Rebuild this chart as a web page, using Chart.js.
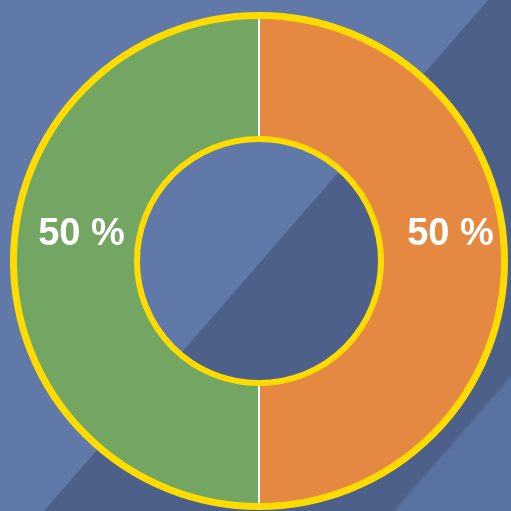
<!DOCTYPE html>
<html>
<head>
<meta charset="utf-8">
<script src="https://cdn.jsdelivr.net/npm/chart.js@4"></script>
<style>
  html, body { margin: 0; padding: 0; }
  body { width: 511px; height: 511px; overflow: hidden; }
  #wrap {
    width: 511px; height: 511px;
    /* blue backdrop with the darker diagonal band */
    background: linear-gradient(131deg,
      #6079a8 0%, #6079a8 51%,
      #4d6089 51.2%, #4d6089 87.5%,
      #5a72a0 88%, #5a72a0 100%);
  }
</style>
</head>
<body>
<div id="wrap"><canvas id="ring" width="511" height="511"></canvas></div>
<script>
// ── data ────────────────────────────────────────────
const categories = ['B', 'A'];          // right (orange), left (green)
const values     = [50, 50];
const colors     = ['#e48842', '#72a662'];

// yellow rims + percentage labels
const rimPlugin = {
    id: 'rim',
    afterDatasetsDraw(chart) {
        const ctx  = chart.ctx;
        const arcs = chart.getDatasetMeta(0).data;
        const a0   = arcs[0];
        ctx.save();
        ctx.strokeStyle = '#ffdc00';
        ctx.lineWidth = 7;
        ctx.beginPath();
        ctx.arc(a0.x, a0.y, a0.outerRadius - 1.5, 0, Math.PI * 2);
        ctx.stroke();
        ctx.lineWidth = 6;
        ctx.beginPath();
        ctx.arc(a0.x, a0.y, a0.innerRadius, 0, Math.PI * 2);
        ctx.stroke();

        // labels, a little above the horizontal middle of each half
        ctx.fillStyle = '#ffffff';
        ctx.font = 'bold 38px "Liberation Sans", Arial, sans-serif';
        ctx.textAlign = 'center';
        ctx.textBaseline = 'middle';
        const r = (a0.outerRadius + a0.innerRadius) / 2;
        arcs.forEach((arc, i) => {
            const mid = (arc.startAngle + arc.endAngle) / 2;
            const tx = arc.x + Math.cos(mid) * r + 7;
            const ty = arc.y - 26;
            ctx.fillText(values[i] + ' %', tx, ty);
        });
        ctx.restore();
    }
};

new Chart(document.getElementById('ring'), {
    type: 'doughnut',
    data: {
        labels: categories,
        datasets: [{
            data: values,
            backgroundColor: colors,
            borderColor: '#ffffff',
            borderWidth: 2,
        }]
    },
    options: {
        responsive: false,
        animation: false,
        radius: 247,
        cutout: 123,
        layout: { padding: { left: 7, right: 0, top: 11, bottom: 0 } },
        plugins: {
            legend: { display: false },
            tooltip: { enabled: false },
        }
    },
    plugins: [rimPlugin]
});
</script>
</body>
</html>
